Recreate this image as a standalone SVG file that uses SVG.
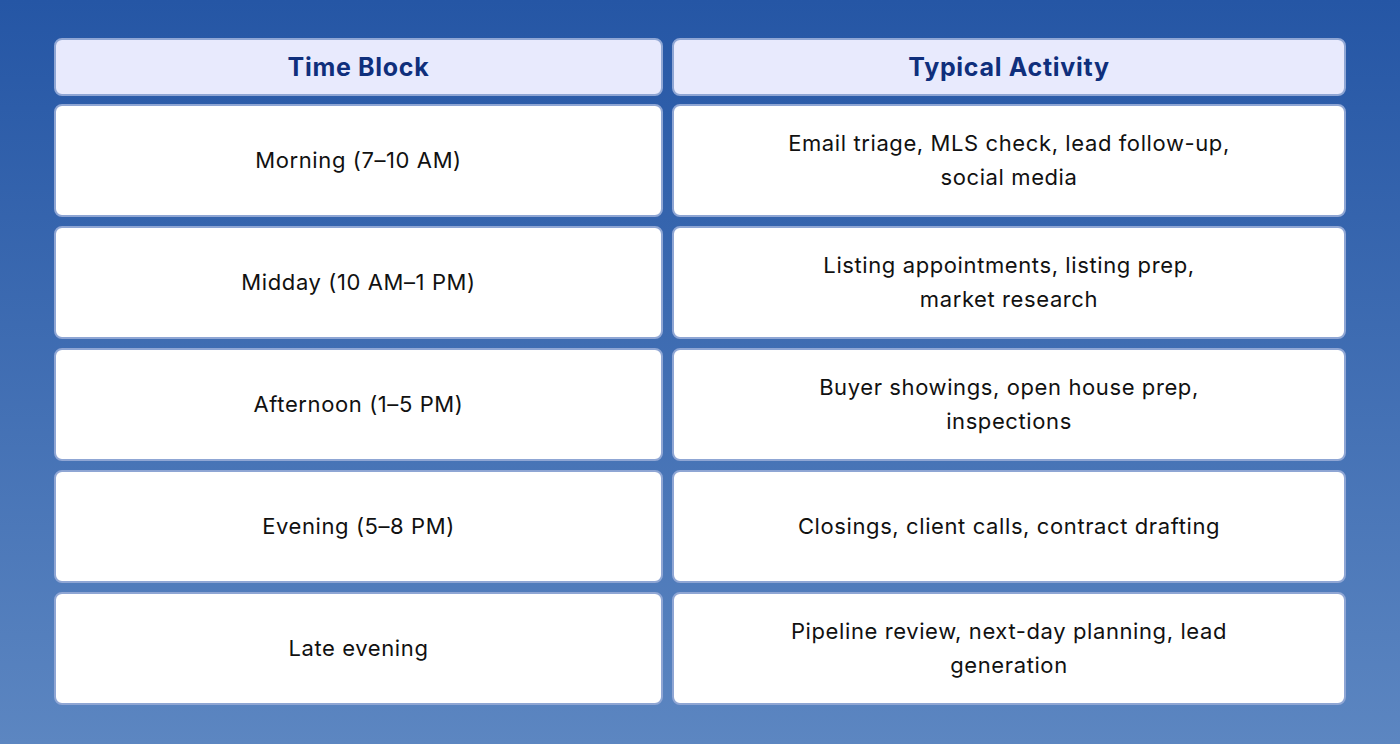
<svg xmlns="http://www.w3.org/2000/svg" width="1400" height="744" viewBox="0 0 1400 744">
<defs>
<linearGradient id="bg" x1="0" y1="0" x2="0" y2="1"><stop offset="0" stop-color="#2556a5"/><stop offset="1" stop-color="#5c86c1"/></linearGradient>
<style>
.h{fill:#e8eafd;stroke:#8fa6d4;stroke-width:2}
.c{fill:#ffffff;stroke:#8fa6d4;stroke-width:2}
.ht{font-family:Inter,"Noto Sans",sans-serif;font-weight:700;font-size:25px;letter-spacing:0.7px;fill:#0f2f7c;text-anchor:middle}
.t{font-family:Inter,"Noto Sans",sans-serif;font-size:22px;letter-spacing:0.6px;fill:#111;text-anchor:middle}
</style>
</defs>
<rect width="1400" height="744" fill="url(#bg)"/>
<g id="header">
<rect class="h" x="55" y="39" width="607" height="56" rx="7"/><text class="ht" x="358.5" y="76">Time Block</text>
<rect class="h" x="673" y="39" width="672" height="56" rx="7"/><text class="ht" x="1009" y="76">Typical Activity</text>
</g>
<g id="row1">
<rect class="c" x="55" y="105" width="607" height="111" rx="7"/><text class="t" x="358.5" y="168">Morning (7–10 AM)</text>
<rect class="c" x="673" y="105" width="672" height="111" rx="7"/><text class="t" x="1009" y="151">Email triage, MLS check, lead follow-up,</text><text class="t" x="1009" y="185">social media</text>
</g>
<g id="row2">
<rect class="c" x="55" y="227" width="607" height="111" rx="7"/><text class="t" x="358.5" y="290">Midday (10 AM–1 PM)</text>
<rect class="c" x="673" y="227" width="672" height="111" rx="7"/><text class="t" x="1009" y="273">Listing appointments, listing prep,</text><text class="t" x="1009" y="307">market research</text>
</g>
<g id="row3">
<rect class="c" x="55" y="349" width="607" height="111" rx="7"/><text class="t" x="358.5" y="412">Afternoon (1–5 PM)</text>
<rect class="c" x="673" y="349" width="672" height="111" rx="7"/><text class="t" x="1009" y="395">Buyer showings, open house prep,</text><text class="t" x="1009" y="429">inspections</text>
</g>
<g id="row4">
<rect class="c" x="55" y="471" width="607" height="111" rx="7"/><text class="t" x="358.5" y="534">Evening (5–8 PM)</text>
<rect class="c" x="673" y="471" width="672" height="111" rx="7"/><text class="t" x="1009" y="534">Closings, client calls, contract drafting</text>
</g>
<g id="row5">
<rect class="c" x="55" y="593" width="607" height="111" rx="7"/><text class="t" x="358.5" y="656">Late evening</text>
<rect class="c" x="673" y="593" width="672" height="111" rx="7"/><text class="t" x="1009" y="639">Pipeline review, next-day planning, lead</text><text class="t" x="1009" y="673">generation</text>
</g>
<g id="connectors"/>
</svg>
